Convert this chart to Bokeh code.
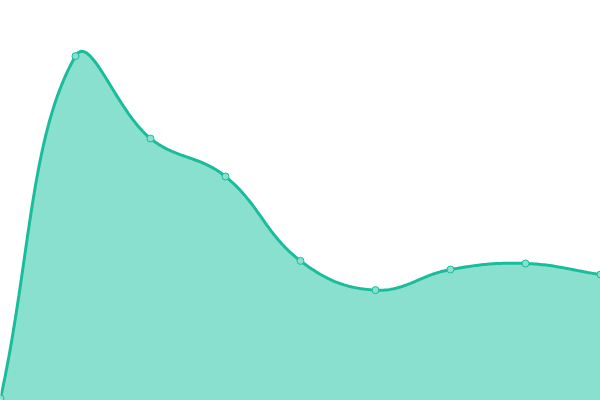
import numpy as np
from bokeh.plotting import figure
from bokeh.models import Range1d
from bokeh.embed import file_html
from bokeh.resources import INLINE

# data
labels = ["0", "1", "2", "3", "4", "5", "6", "7", "8"]
x_vals = [0, 1, 2, 3, 4, 5, 6, 7, 8]
y_vals = [0.5, 86.1, 65.5, 56.0, 34.9, 27.6, 32.75, 34.25, 31.5]

W, H = 600, 400
X_MIN, X_MAX = 0, 8
Y_MIN, Y_MAX = 0, 100
TENSION = 0.4

LINE = "#1abc9c"
FILL = "#89e0cf"

# smooth curve (Chart.js-like cardinal bezier) computed in screen space
sx = W / (X_MAX - X_MIN)
sy = H / (Y_MAX - Y_MIN)
px = np.array(x_vals, float) * sx
py = np.array(y_vals, float) * sy
n = len(px)
cp_prev = np.zeros((n, 2))
cp_next = np.zeros((n, 2))
for i in range(n):
    p0 = np.array([px[max(i - 1, 0)], py[max(i - 1, 0)]])
    p1 = np.array([px[i], py[i]])
    p2 = np.array([px[min(i + 1, n - 1)], py[min(i + 1, n - 1)]])
    d01 = np.hypot(*(p1 - p0))
    d12 = np.hypot(*(p2 - p1))
    tot = d01 + d12
    s01 = d01 / tot if tot else 0
    s12 = d12 / tot if tot else 0
    fa = TENSION * s01
    fb = TENSION * s12
    cp_prev[i] = p1 - fa * (p2 - p0)
    cp_next[i] = p1 + fb * (p2 - p0)
# cap to area
cp_prev[:, 0] = np.clip(cp_prev[:, 0], 0, W)
cp_next[:, 0] = np.clip(cp_next[:, 0], 0, W)
cp_prev[:, 1] = np.clip(cp_prev[:, 1], 0, H)
cp_next[:, 1] = np.clip(cp_next[:, 1], 0, H)

cx, cy = [], []
t = np.linspace(0, 1, 40)
for i in range(n - 1):
    P0 = np.array([px[i], py[i]])
    P1 = cp_next[i]
    P2 = cp_prev[i + 1]
    P3 = np.array([px[i + 1], py[i + 1]])
    pts = ((1 - t) ** 3)[:, None] * P0 + (3 * (1 - t) ** 2 * t)[:, None] * P1 \
        + (3 * (1 - t) * t ** 2)[:, None] * P2 + (t ** 3)[:, None] * P3
    if i > 0:
        pts = pts[1:]
    cx.extend(pts[:, 0] / sx)
    cy.extend(pts[:, 1] / sy)

p = figure(width=W, height=H, output_backend="svg", toolbar_location=None,
           x_range=Range1d(X_MIN, X_MAX), y_range=Range1d(Y_MIN, Y_MAX),
           min_border=0, outline_line_color=None)
p.axis.visible = False
p.grid.visible = False
p.background_fill_color = "white"
p.border_fill_color = "white"

p.varea(x=cx, y1=0, y2=cy, fill_color=FILL, fill_alpha=1)
p.line(cx, cy, line_color=LINE, line_width=3)
p.scatter(x_vals, y_vals, size=7, fill_color=FILL, line_color=LINE, line_width=1)

open("out.html", "w").write(file_html(p, INLINE))
